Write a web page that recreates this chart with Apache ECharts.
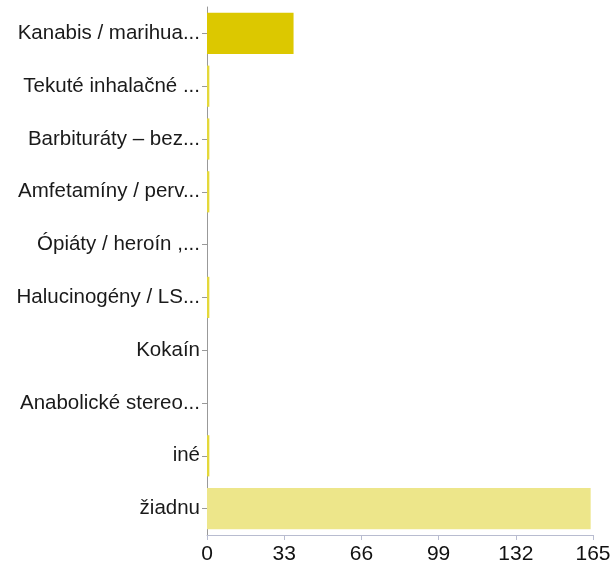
<!DOCTYPE html>
<html><head><meta charset="utf-8">
<script src="https://cdn.jsdelivr.net/npm/echarts@6/dist/echarts.min.js"></script>
<style>html,body{margin:0;padding:0;background:#fff}#c{width:614px;height:565px}</style>
</head><body><div id="c"></div>
<script>
const categories = ["Kanabis / marihua...","Tekuté inhalačné ...","Barbituráty – bez...","Amfetamíny / perv...","Ópiáty / heroín ,...","Halucinogény / LS...","Kokaín","Anabolické stereo...","iné","žiadnu"];
const values = [37, 1, 1, 1, 0, 1, 0, 0, 1, 164];
const barColors = ["#dcc800","#e4d83a","#e4d83a","#e4d83a","#e4d83a","#e4d83a","#e4d83a","#e4d83a","#e4d83a","#ede68a"];
const xTicks = [0, 33, 66, 99, 132, 165];

const chart = echarts.init(document.getElementById('c'));
chart.setOption({
  animation:false,
  grid:{left:207,right:21,top:7,bottom:28,containLabel:false},
  xAxis:{type:'value',min:xTicks[0],max:xTicks[xTicks.length-1],interval:xTicks[1]-xTicks[0],
    axisLine:{show:true,lineStyle:{color:'#b8bcd0',width:1}},
    axisTick:{show:true,length:5,lineStyle:{color:'#b8bcd0'}},
    splitLine:{show:false},
    axisLabel:{color:'#111',fontSize:21,fontFamily:'Liberation Sans',margin:9}},
  yAxis:{type:'category',data:categories,inverse:true,
    axisLine:{show:true,lineStyle:{color:'#999',width:1}},
    axisTick:{show:true,alignWithLabel:true,length:5,lineStyle:{color:'#999'}},
    axisLabel:{color:'#1a1a1a',fontSize:20.5,fontFamily:'Liberation Sans',margin:7}},
  series:[{type:'bar',barCategoryGap:'22%',
    data:values.map((v,i)=>({value:v,itemStyle:{color:barColors[i]}}))}]
});
</script></body></html>
